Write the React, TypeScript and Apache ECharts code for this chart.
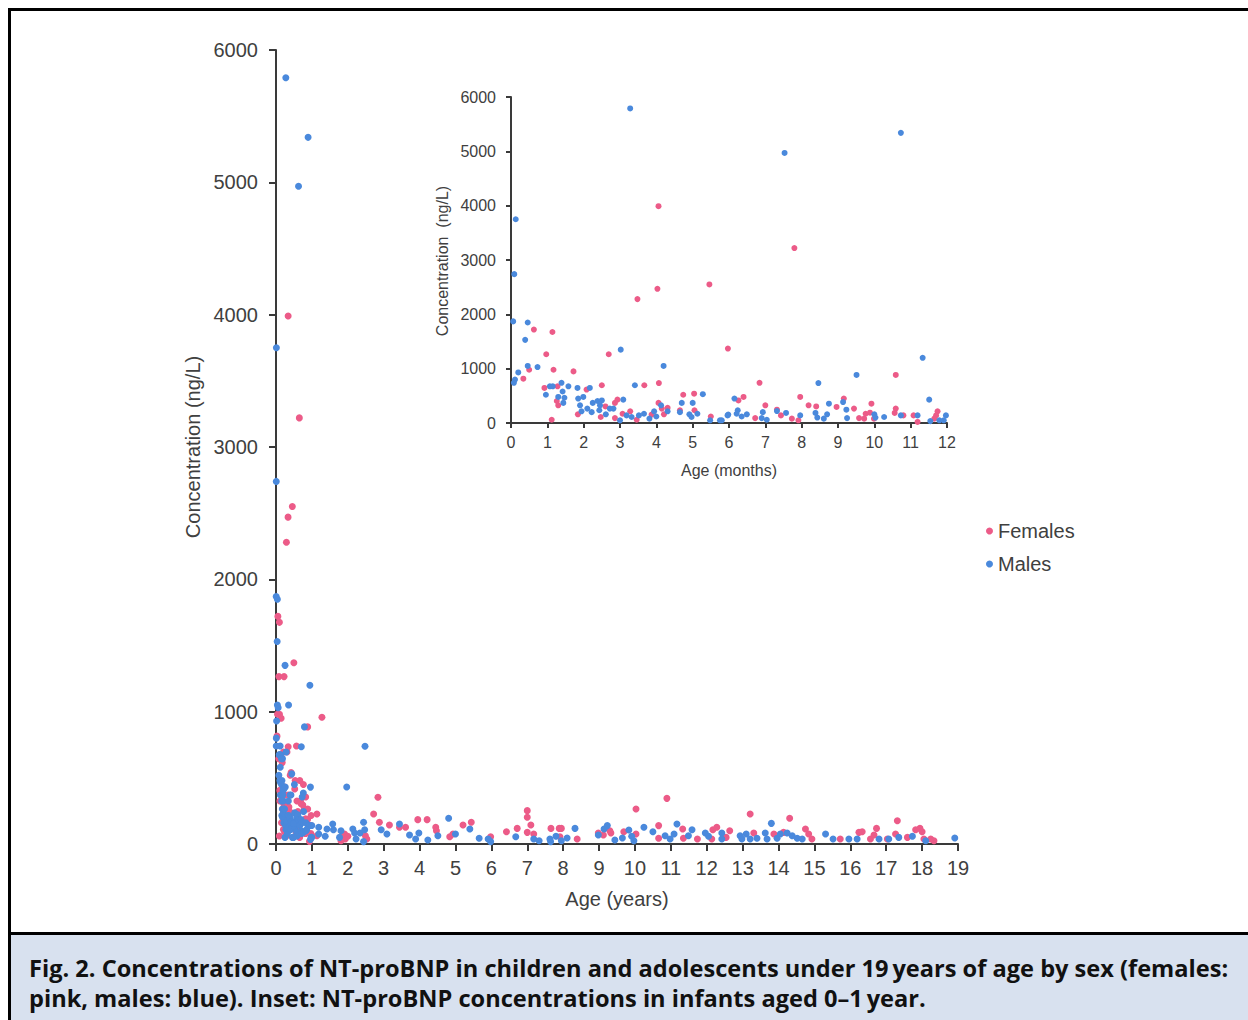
import React, { useEffect, useRef } from "react";
import * as echarts from "echarts";

// Infants (inset): [age in months, NT-proBNP ng/L]
const infantFemales: [number, number][] = [
  [4.06, 3990], [5.46, 2550], [4.03, 2470], [3.48, 2280], [0.63, 1720], [1.14, 1675], [0.97, 1265], [2.69, 1265],
  [1.17, 980], [0.5, 980], [1.72, 950], [0.34, 815], [5.97, 1370], [0.92, 645], [3.67, 695], [4.07, 735],
  [2.5, 695], [2.08, 615], [1.28, 675], [1.26, 405], [1.3, 325], [4.74, 520], [5.04, 540], [2.93, 430],
  [2.86, 370], [4.06, 370], [4.15, 265], [4.31, 280], [2.6, 305], [1.84, 160], [1.12, 60], [2.47, 110],
  [2.86, 90], [3.07, 170], [3.28, 215], [3.46, 60], [3.87, 155], [4.21, 160], [5.05, 235], [5.5, 120], [4.65, 235],
  [7.8, 3220], [6.84, 740], [10.59, 885], [7.96, 480], [6.4, 480], [6.26, 415], [7.0, 325], [8.19, 325],
  [8.4, 305], [7.32, 245], [7.43, 140], [6.72, 90], [7.73, 80], [7.91, 50], [8.96, 295], [9.16, 450],
  [9.44, 265], [9.92, 355], [9.76, 170], [9.58, 90], [9.72, 80], [9.88, 190], [9.99, 80], [10.59, 265],
  [10.56, 185], [10.8, 140], [11.08, 140], [11.19, 20], [11.74, 215], [11.7, 140], [11.65, 80],
];

const infantMales: [number, number][] = [
  [3.28, 5790], [0.13, 3750], [0.09, 2740], [0.06, 1870], [0.46, 1850], [0.39, 1530], [0.46, 1050], [0.73, 1030],
  [0.2, 930], [0.11, 800], [0.08, 740], [3.02, 1350], [4.2, 1050], [0.96, 520], [1.07, 675], [1.15, 675],
  [1.39, 740], [1.58, 675], [1.42, 580], [1.3, 480], [1.47, 465], [1.44, 370], [1.83, 645], [2.17, 645],
  [1.85, 450], [1.99, 480], [1.9, 325], [1.94, 215], [2.1, 265], [2.22, 200], [2.25, 370], [2.38, 405],
  [2.5, 415], [2.45, 325], [2.43, 235], [2.61, 160], [2.72, 265], [2.82, 265], [3.09, 430], [3.0, 50],
  [3.18, 140], [3.32, 110], [3.41, 695], [3.52, 140], [3.66, 170], [3.81, 80], [3.94, 215], [4.0, 120],
  [4.13, 325], [4.31, 215], [4.65, 200], [4.7, 370], [5.0, 370], [4.91, 160], [5.13, 170], [5.28, 530],
  [5.48, 50], [5.75, 50], [5.96, 140], [4.97, 110],
  [10.73, 5340], [7.53, 4970], [11.33, 1200], [9.51, 885], [8.46, 735], [11.51, 430], [6.15, 450], [6.24, 235],
  [6.21, 170], [6.49, 160], [6.35, 120], [5.98, 155], [6.93, 200], [6.9, 90], [7.04, 60], [7.32, 220],
  [7.57, 185], [7.96, 140], [8.38, 185], [8.43, 100], [8.7, 160], [8.75, 355], [8.61, 80], [9.14, 385],
  [9.23, 245], [9.25, 90], [10.0, 160], [10.03, 100], [10.27, 110], [10.73, 140], [11.19, 140], [11.54, 35],
  [11.79, 50], [11.97, 140], [11.91, 50], [5.8, 50],
];

// Children over one year (main plot): [age in years, NT-proBNP ng/L]
const olderFemales: [number, number][] = [
  [1.28, 958], [1.14, 227], [1.14, 63], [1.88, 58], [1.93, 38], [1.81, 25], [1.91, 76], [2.0, 58], [2.49, 63], [2.53, 38],
  [2.84, 353], [2.72, 227], [2.88, 164], [3.16, 144], [3.44, 126], [3.61, 126], [3.95, 184], [4.21, 184],
  [4.45, 126], [4.47, 100], [4.84, 55], [4.93, 76], [5.21, 144], [5.44, 164], [5.98, 55], [6.42, 93],
  [6.72, 118], [7.0, 252], [7.0, 202], [7.0, 88], [7.1, 144], [7.18, 76], [7.66, 118], [7.89, 118],
  [7.95, 118], [7.91, 55], [8.39, 38], [8.98, 83], [9.12, 68], [9.3, 100], [9.33, 83], [9.69, 93],
  [10.03, 265], [10.03, 76], [10.89, 345], [10.66, 139], [11.33, 113], [10.66, 43], [11.35, 43], [11.74, 38],
  [12.17, 108], [12.28, 126], [12.14, 38], [12.64, 100], [12.54, 50], [13.21, 227], [13.31, 83], [14.31, 194],
  [13.87, 76], [14.14, 88], [14.75, 113], [14.84, 76], [14.93, 38], [15.72, 38], [16.24, 88], [16.33, 93],
  [16.56, 38], [16.73, 118], [16.66, 68], [17.31, 176], [17.26, 76], [17.03, 38], [17.59, 50], [17.82, 108],
  [17.94, 118], [18.0, 93], [18.05, 38], [18.24, 38], [18.33, 25],
];

const olderMales: [number, number][] = [
  [1.19, 126], [1.19, 76], [1.42, 113], [1.37, 58], [1.58, 151], [1.6, 108], [1.81, 100], [1.77, 50],
  [1.97, 431], [2.48, 738], [2.14, 113], [2.19, 83], [2.23, 38], [2.34, 83], [2.44, 164], [2.47, 108],
  [2.44, 18], [2.93, 108], [3.09, 76], [3.44, 151], [3.72, 68], [3.89, 38], [3.98, 83], [4.23, 30],
  [4.51, 63], [4.81, 194], [5.0, 76], [5.4, 113], [5.66, 43], [5.91, 38], [5.98, 18], [6.68, 55],
  [7.18, 38], [7.33, 25], [7.63, 38], [7.65, 18], [7.8, 58], [7.95, 25], [8.11, 45], [8.33, 118],
  [8.98, 68], [9.14, 113], [9.23, 139], [9.44, 30], [9.65, 45], [9.83, 106], [9.91, 58], [9.97, 25],
  [10.25, 126], [10.5, 93], [10.84, 63], [10.98, 38], [11.09, 76], [11.17, 151], [11.49, 63], [11.59, 108],
  [11.96, 83], [12.05, 58], [12.42, 83], [12.42, 38], [12.93, 63], [12.98, 38], [13.1, 76], [13.21, 38],
  [13.4, 43], [13.63, 83], [13.68, 38], [13.8, 156], [13.96, 43], [14.05, 76], [14.24, 83], [14.38, 63],
  [14.52, 43], [14.66, 38], [15.31, 76], [15.52, 38], [15.96, 38], [16.19, 38], [16.8, 38], [17.07, 38],
  [17.35, 50], [17.73, 58], [18.1, 25], [18.91, 45],
];

const mainXTicks = { min: 0, max: 19, interval: 1 };
const mainYTicks = { min: 0, max: 6000, interval: 1000 };
const insetXTicks = { min: 0, max: 12, interval: 1 };
const insetYTicks = { min: 0, max: 6000, interval: 1000 };

const legendNames = ["Females", "Males"];
const captionLines = [
  "Fig. 2. Concentrations of NT-proBNP in children and adolescents under 19\u2009years of age by sex (females:",
  "pink, males: blue). Inset: NT-proBNP concentrations in infants aged 0\u20131\u2009year.",
];

const PINK = "#ec5b88";
const BLUE = "#4a89dc";
const AXIS = "#3a3a3a";
const LABEL = "#404040";
const FONT = "'Liberation Sans', Arial, sans-serif";

export default function App() {
  const ref = useRef<HTMLDivElement>(null);

  useEffect(() => {
    if (!ref.current) return;
    const chart = echarts.init(ref.current, null, { renderer: "svg" });

    const toYears = (d: [number, number][]) => d.map(([m, v]) => [m / 12, v]);
    const mainFemales = [...toYears(infantFemales), ...olderFemales];
    const mainMales = [...toYears(infantMales), ...olderMales];

    const axisCommon = (fontSize: number, margin: number, tickLen: number) => ({
      type: "value" as const,
      splitLine: { show: false },
      axisLine: { show: true, lineStyle: { color: AXIS, width: 2 } },
      axisTick: { show: true, length: tickLen, lineStyle: { color: AXIS, width: 2 } },
      axisLabel: { fontSize, color: LABEL, fontFamily: FONT, margin, formatter: (v: number) => String(v) },
    });

    const captionStyle = {
      fontSize: 23.6,
      fontWeight: "bold",
      fontFamily: "'Open Sans', sans-serif",
      fill: "#111",
      align: "left",
      verticalAlign: "middle",
      textAlign: "left",
      textVerticalAlign: "middle",
    };

    chart.setOption({
      animation: false,
      backgroundColor: "#ffffff",
      grid: [
        { left: 276, top: 50, width: 682, height: 794 },
        { left: 511, top: 97, width: 436, height: 326 },
      ],
      xAxis: [
        { gridIndex: 0, ...axisCommon(20, 14, 7), ...mainXTicks },
        { gridIndex: 1, ...axisCommon(16, 11, 5), ...insetXTicks },
      ],
      yAxis: [
        { gridIndex: 0, ...axisCommon(20, 18, 7), ...mainYTicks },
        { gridIndex: 1, ...axisCommon(16, 15, 5), ...insetYTicks },
      ],
      legend: {
        data: legendNames,
        orient: "vertical",
        left: 981,
        top: 516,
        icon: "circle",
        itemWidth: 7,
        itemHeight: 7,
        itemGap: 13,
        textStyle: { fontSize: 20, color: LABEL, fontFamily: FONT, padding: [0, 0, 0, 0] },
      },
      series: [
        { name: "Females", type: "scatter", xAxisIndex: 0, yAxisIndex: 0, data: mainFemales, symbolSize: 7, itemStyle: { color: PINK, opacity: 1 } },
        { name: "Males", type: "scatter", xAxisIndex: 0, yAxisIndex: 0, data: mainMales, symbolSize: 7, itemStyle: { color: BLUE, opacity: 1 } },
        { name: "Females", type: "scatter", xAxisIndex: 1, yAxisIndex: 1, data: infantFemales, symbolSize: 6, itemStyle: { color: PINK, opacity: 1 } },
        { name: "Males", type: "scatter", xAxisIndex: 1, yAxisIndex: 1, data: infantMales, symbolSize: 6, itemStyle: { color: BLUE, opacity: 1 } },
      ],
      graphic: [
        { type: "rect", shape: { x: 11, y: 935, width: 1237, height: 85 }, style: { fill: "#d8e1ef" }, z: -1 },
        { type: "rect", shape: { x: 8, y: 8, width: 1240, height: 3 }, style: { fill: "#000" } },
        { type: "rect", shape: { x: 8, y: 8, width: 3, height: 1012 }, style: { fill: "#000" } },
        { type: "rect", shape: { x: 8, y: 932, width: 1240, height: 3 }, style: { fill: "#000" } },
        {
          type: "text", x: 193, y: 447, rotation: Math.PI / 2,
          style: { text: "Concentration (ng/L)", fontSize: 20, fontFamily: FONT, fill: LABEL, align: "center", verticalAlign: "middle", textAlign: "center", textVerticalAlign: "middle" },
        },
        {
          type: "text", x: 617, y: 899,
          style: { text: "Age (years)", fontSize: 20, fontFamily: FONT, fill: LABEL, align: "center", verticalAlign: "middle", textAlign: "center", textVerticalAlign: "middle" },
        },
        {
          type: "text", x: 442, y: 261, rotation: Math.PI / 2,
          style: { text: "Concentration  (ng/L)", fontSize: 16, fontFamily: FONT, fill: LABEL, align: "center", verticalAlign: "middle", textAlign: "center", textVerticalAlign: "middle" },
        },
        {
          type: "text", x: 729, y: 470,
          style: { text: "Age (months)", fontSize: 16, fontFamily: FONT, fill: LABEL, align: "center", verticalAlign: "middle", textAlign: "center", textVerticalAlign: "middle" },
        },
        { type: "text", x: 29, y: 968, style: { text: captionLines[0], ...captionStyle } },
        { type: "text", x: 29, y: 998, style: { text: captionLines[1], ...captionStyle } },
      ],
    });

    return () => chart.dispose();
  }, []);

  return <div ref={ref} style={{ position: "absolute", left: 0, top: 0, width: 1248, height: 1020 }} />;
}
